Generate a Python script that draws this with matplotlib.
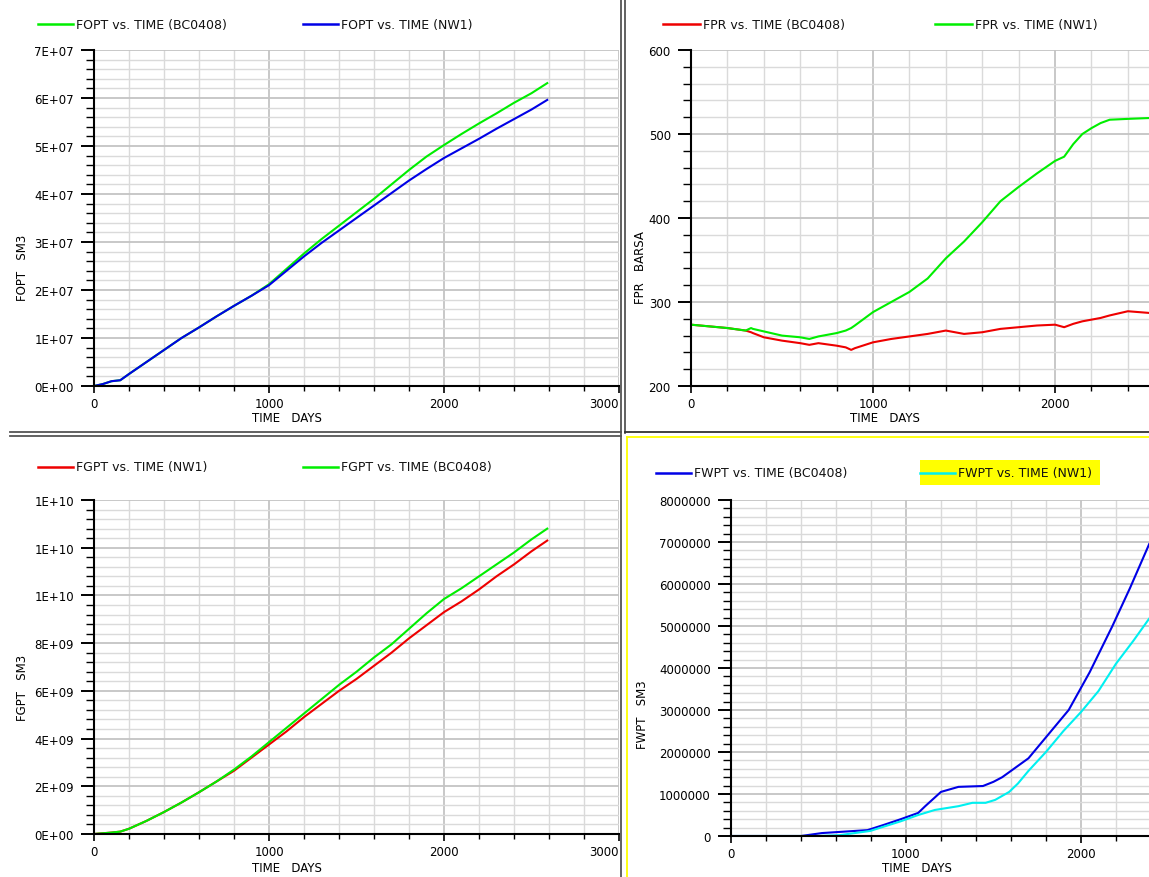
import numpy as np
import matplotlib.pyplot as plt
from matplotlib.lines import Line2D
from matplotlib.patches import Rectangle
from matplotlib.ticker import MultipleLocator, FuncFormatter

W, H = 1149, 878
plt.rcParams['font.family'] = ['DejaVu Sans']

# ---- FOPT (SM3) ----
fopt_days = [0, 50, 100, 150, 200, 300, 400, 500, 600, 700, 800, 900, 1000, 1100, 1200,
             1300, 1400, 1500, 1600, 1700, 1800, 1900, 2000, 2100, 2200, 2300, 2400, 2500, 2590]
fopt_bc0408 = np.array([0, 0.04, 0.10, 0.12, 0.25, 0.50, 0.75, 1.00, 1.22, 1.45, 1.67, 1.88, 2.12,
                        2.44, 2.76, 3.06, 3.34, 3.62, 3.90, 4.20, 4.50, 4.78, 5.02, 5.25, 5.47,
                        5.68, 5.90, 6.10, 6.31]) * 1e7
fopt_nw1 = np.array([0, 0.04, 0.10, 0.12, 0.25, 0.50, 0.75, 1.00, 1.22, 1.45, 1.67, 1.88, 2.10,
                     2.40, 2.70, 2.98, 3.24, 3.50, 3.76, 4.02, 4.28, 4.52, 4.75, 4.95, 5.15,
                     5.36, 5.56, 5.76, 5.96]) * 1e7

# ---- FPR (BARSA) ----
fpr_days = [0, 100, 200, 300, 330, 340, 400, 500, 600, 650, 700, 800, 850, 880, 900, 1000,
            1100, 1200, 1300, 1400, 1500, 1600, 1700, 1800, 1900, 2000, 2050, 2100, 2150,
            2200, 2250, 2300, 2400, 2516]
fpr_bc0408 = [273, 271, 269, 266, 264, 263, 258, 254, 251, 249, 251, 248, 246, 243, 245, 252,
              256, 259, 262, 266, 262, 264, 268, 270, 272, 273, 270, 274, 277,
              279, 281, 284, 289, 287]
fpr_nw1 = [273, 271, 269, 266, 269, 268, 265, 260, 258, 256, 259, 263, 266, 269, 272, 288,
           300, 312, 328, 352, 372, 395, 420, 437, 453, 468, 473, 488, 500,
           507, 513, 517, 518, 519]

# ---- FGPT (SM3) ----
fgpt_days = [0, 100, 150, 200, 300, 400, 500, 600, 700, 800, 900, 1000, 1100, 1200, 1300,
             1400, 1500, 1600, 1700, 1800, 1900, 2000, 2100, 2200, 2300, 2400, 2500, 2590]
fgpt_nw1 = np.array([0, 0.06, 0.10, 0.22, 0.55, 0.92, 1.32, 1.75, 2.20, 2.65, 3.20, 3.75, 4.30,
                     4.90, 5.45, 6.00, 6.50, 7.05, 7.60, 8.20, 8.75, 9.30, 9.75, 10.25,
                     10.80, 11.30, 11.85, 12.30]) * 1e9
fgpt_bc0408 = np.array([0, 0.06, 0.10, 0.22, 0.55, 0.92, 1.32, 1.75, 2.20, 2.70, 3.25, 3.85, 4.45,
                        5.05, 5.65, 6.25, 6.80, 7.40, 7.95, 8.60, 9.25, 9.85, 10.30, 10.80,
                        11.30, 11.80, 12.35, 12.80]) * 1e9

# ---- FWPT (SM3) ----
fwpt_days_bc0408 = [0, 400, 520, 780, 870, 970, 1070, 1110, 1155, 1200, 1300, 1440, 1500,
                    1550, 1600, 1700, 1800, 1930, 2050, 2180, 2280, 2390]
fwpt_bc0408 = np.array([0, 0, 0.07, 0.14, 0.26, 0.40, 0.55, 0.71, 0.88, 1.05, 1.17, 1.19, 1.29,
                        1.40, 1.55, 1.85, 2.35, 3.00, 3.90, 5.00, 5.90, 6.95]) * 1e6
fwpt_days_nw1 = [0, 500, 620, 795, 970, 1070, 1165, 1300, 1380, 1455, 1510, 1590, 1640, 1700,
                 1800, 1900, 2000, 2100, 2200, 2300, 2389]
fwpt_nw1 = np.array([0, 0, 0.02, 0.12, 0.35, 0.50, 0.62, 0.71, 0.79, 0.79, 0.86, 1.05, 1.25,
                     1.55, 2.00, 2.50, 2.95, 3.45, 4.10, 4.65, 5.17]) * 1e6

GREEN, BLUE, RED, CYAN = '#00ee00', '#0000e6', '#ee0000', '#00f0f0'
LW = 1.5


def fx(x):
    return x / W


def fy(y):
    return 1 - y / H


def make_axes(fig, left, top, right, bottom):
    return fig.add_axes([fx(left), fy(bottom), (right - left) / W, (bottom - top) / H])


def style_axes(ax, xlim, ylim, ymajor, fmt):
    ax.set_xlim(*xlim)
    ax.set_ylim(*ylim)
    ax.xaxis.set_major_locator(MultipleLocator(1000))
    ax.xaxis.set_minor_locator(MultipleLocator(200))
    ax.yaxis.set_major_locator(MultipleLocator(ymajor))
    ax.yaxis.set_minor_locator(MultipleLocator(ymajor / 5))
    ax.yaxis.set_major_formatter(FuncFormatter(fmt))
    ax.grid(which='minor', color='#dadada', lw=1.0, zorder=0)
    ax.grid(which='major', color='#c4c4c4', lw=1.3, zorder=0)
    ax.set_axisbelow(True)
    for s in ('top', 'right'):
        ax.spines[s].set_visible(False)
    for s in ('left', 'bottom'):
        ax.spines[s].set_linewidth(1.5)
        ax.spines[s].set_color('black')
    ax.tick_params(axis='y', which='major', length=9.5, width=1.4, pad=5, labelsize=8.5)
    ax.tick_params(axis='y', which='minor', length=5.5, width=1.0)
    ax.tick_params(axis='x', which='major', length=5, width=1.2, pad=3, labelsize=8.5)
    ax.tick_params(axis='x', which='minor', length=3.5, width=1.0)


def legend_entry(fig, x0, x1, y, color, label, highlight=None):
    if highlight is not None:
        hx0, hy0, hx1, hy1 = highlight
        fig.add_artist(Rectangle((fx(hx0), fy(hy1)), (hx1 - hx0) / W, (hy1 - hy0) / H,
                                 transform=fig.transFigure, color='#ffff00', lw=0))
    fig.add_artist(Line2D([fx(x0), fx(x1)], [fy(y), fy(y)], color=color, lw=1.8))
    fig.text(fx(x1 + 3), fy(y), label, fontsize=9, va='center', ha='left', color='#111111')


def fig_line(fig, xs, ys, color, lw=1.2):
    fig.add_artist(Line2D([fx(v) for v in xs], [fy(v) for v in ys], color=color, lw=lw))


fig = plt.figure(figsize=(W / 100, H / 100), dpi=100)
fig.patch.set_facecolor('white')

sci = lambda v, p: '%.0E' % v
plain = lambda v, p: '%d' % v

# top-left: FOPT
ax1 = make_axes(fig, 94, 51, 619, 387)
ax1.plot(fopt_days, fopt_bc0408, color=GREEN, lw=LW)
ax1.plot(fopt_days, fopt_nw1, color=BLUE, lw=LW)
style_axes(ax1, (0, 3000), (0, 7e7), 1e7, sci)

# top-right: FPR
ax2 = make_axes(fig, 691, 51, 1149, 387)
ax2.plot(fpr_days, fpr_bc0408, color=RED, lw=LW)
ax2.plot(fpr_days, fpr_nw1, color=GREEN, lw=LW)
style_axes(ax2, (0, 2516), (200, 600), 100, plain)

# bottom-left: FGPT
ax3 = make_axes(fig, 94, 501, 619, 835)
ax3.plot(fgpt_days, fgpt_nw1, color=RED, lw=LW)
ax3.plot(fgpt_days, fgpt_bc0408, color=GREEN, lw=LW)
style_axes(ax3, (0, 3000), (0, 1.4e10), 2e9, sci)

# bottom-right: FWPT
ax4 = make_axes(fig, 731, 501, 1149, 837)
ax4.plot(fwpt_days_bc0408, fwpt_bc0408, color=BLUE, lw=LW)
ax4.plot(fwpt_days_nw1, fwpt_nw1, color=CYAN, lw=LW)
style_axes(ax4, (0, 2389), (0, 8e6), 1e6, plain)

# the 3000 label is pulled inside the axis end
fig.canvas.draw()
for ax in (ax1, ax3):
    for tick in ax.xaxis.get_major_ticks():
        if abs(tick.get_loc() - 3000) < 1:
            tick.label1.set_horizontalalignment('right')

# axis titles
fig.text(fx(287), fy(419), 'TIME   DAYS', fontsize=8.5, ha='center', va='center')
fig.text(fx(885), fy(419), 'TIME   DAYS', fontsize=8.5, ha='center', va='center')
fig.text(fx(287), fy(869), 'TIME   DAYS', fontsize=8.5, ha='center', va='center')
fig.text(fx(917), fy(869), 'TIME   DAYS', fontsize=8.5, ha='center', va='center')
fig.text(fx(22), fy(268), 'FOPT   SM3', fontsize=8.5, rotation=90, ha='center', va='center')
fig.text(fx(640), fy(268), 'FPR   BARSA', fontsize=8.5, rotation=90, ha='center', va='center')
fig.text(fx(22), fy(688), 'FGPT   SM3', fontsize=8.5, rotation=90, ha='center', va='center')
fig.text(fx(642), fy(715), 'FWPT   SM3', fontsize=8.5, rotation=90, ha='center', va='center')

# legends
legend_entry(fig, 38, 73, 25, GREEN, 'FOPT vs. TIME (BC0408)')
legend_entry(fig, 303, 338, 25, BLUE, 'FOPT vs. TIME (NW1)')
legend_entry(fig, 663, 700, 25, RED, 'FPR vs. TIME (BC0408)')
legend_entry(fig, 935, 972, 25, GREEN, 'FPR vs. TIME (NW1)')
legend_entry(fig, 38, 73, 468, RED, 'FGPT vs. TIME (NW1)')
legend_entry(fig, 303, 338, 468, GREEN, 'FGPT vs. TIME (BC0408)')
legend_entry(fig, 656, 691, 474, BLUE, 'FWPT vs. TIME (BC0408)')
legend_entry(fig, 920, 955, 474, CYAN, 'FWPT vs. TIME (NW1)', highlight=(920, 461, 1100, 486))

# panel frames
fig_line(fig, [621, 621], [0, 878], '#555555', 1.3)
fig_line(fig, [625, 625], [0, 434], '#555555', 1.3)
fig_line(fig, [10, 621], [433, 433], '#555555', 1.3)
fig_line(fig, [10, 621], [437, 437], '#555555', 1.3)
fig_line(fig, [625, 1149], [433, 433], '#333333', 1.3)
fig_line(fig, [627, 1149], [438, 438], '#ffff00', 1.3)
fig_line(fig, [627, 627], [438, 878], '#ffff00', 1.3)

fig.savefig('out.png', dpi=100)
